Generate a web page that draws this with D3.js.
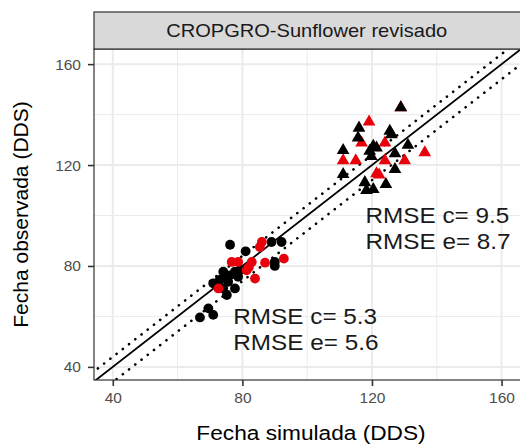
<!DOCTYPE html>
<html>
<head>
<meta charset="utf-8">
<script src="https://cdn.jsdelivr.net/npm/d3@7"></script>
<style>
  body { margin: 0; background: #fff; }
  svg { display: block; font-family: "Liberation Sans", Arial, sans-serif; }
</style>
</head>
<body>
<script>
// observed vs simulated dates (DDS)
var circleBlack = [
  [76.2, 88.4], [81.0, 85.8], [89.0, 89.5], [92.1, 89.5], [90.0, 81.6], [90.0, 80.0],
  [74.1, 77.7], [76.2, 76.3], [78.7, 75.7], [75.6, 73.7], [71.0, 73.1], [74.1, 71.1],
  [77.7, 71.1], [75.2, 68.5], [69.5, 63.2], [71.0, 60.6], [66.9, 59.6], [77.7, 77.7],
  [74.6, 75.7], [79.5, 78.5], [73.0, 74.5]
];
var circleRed = [
  [86.0, 89.5], [85.4, 87.5], [76.7, 81.6], [82.9, 81.6], [87.0, 81.3], [92.8, 82.9],
  [81.3, 78.3], [83.9, 75.0], [72.6, 71.1], [78.7, 81.6], [82.0, 79.5]
];
var triBlack = [
  [128.9, 142.8], [116.0, 134.7], [115.7, 130.8], [126.0, 132.1], [111.1, 125.8],
  [120.4, 127.5], [121.4, 126.8], [119.3, 125.5], [131.1, 127.9], [127.1, 124.5],
  [111.1, 116.3], [127.1, 118.3], [117.8, 113.1], [118.3, 110.0], [120.4, 110.4],
  [124.3, 112.4], [125.5, 133.5], [119.8, 123.5]
];
var triRed = [
  [128.9, 142.8], [119.1, 137.1], [116.8, 128.8], [124.0, 128.8], [111.1, 121.8],
  [115.0, 121.8], [124.0, 121.8], [130.1, 121.8], [136.3, 124.9], [121.4, 116.6],
  [122.2, 116.1]
];
var ticks = [40, 80, 120, 160];
var minorTicks = [60, 100, 140];
var refOffsets = [4, -6];   // dotted lines around 1:1
var labels = [
  { x: 118.0, y: 96.9, text: "RMSE c= 9.5" },
  { x: 118.0, y: 86.6, text: "RMSE e= 8.7" },
  { x: 77.2, y: 57.0, text: "RMSE c= 5.3" },
  { x: 77.2, y: 46.7, text: "RMSE e= 5.6" }
];

var W = 520, H = 447;
var pL = 94, pR = 521, pT = 49, pB = 380, stripT = 12;
var sx = 1.08; // text in the picture is a bit wider than tall

var svg = d3.select("body").append("svg").attr("width", W).attr("height", H);

var x = d3.scaleLinear().domain([34.2, 166]).range([pL, pR]);
var y = d3.scaleLinear().domain([34.8, 166]).range([pB, pT]);

svg.append("clipPath").attr("id", "clip")
  .append("rect").attr("x", pL).attr("y", pT).attr("width", pR - pL).attr("height", pB - pT);

// panel bg + grid
svg.append("rect").attr("x", pL).attr("y", pT).attr("width", pR - pL).attr("height", pB - pT).attr("fill", "#fff");
var grid = svg.append("g");
grid.selectAll(".vmin").data(minorTicks).enter().append("line")
  .attr("x1", d => x(d)).attr("x2", d => x(d)).attr("y1", pT).attr("y2", pB)
  .attr("stroke", "#ebebeb").attr("stroke-width", 1);
grid.selectAll(".hmin").data(minorTicks).enter().append("line")
  .attr("y1", d => y(d)).attr("y2", d => y(d)).attr("x1", pL).attr("x2", pR)
  .attr("stroke", "#ebebeb").attr("stroke-width", 1);
grid.selectAll(".vmaj").data(ticks).enter().append("line")
  .attr("x1", d => x(d)).attr("x2", d => x(d)).attr("y1", pT).attr("y2", pB)
  .attr("stroke", "#ebebeb").attr("stroke-width", 2);
grid.selectAll(".hmaj").data(ticks).enter().append("line")
  .attr("y1", d => y(d)).attr("y2", d => y(d)).attr("x1", pL).attr("x2", pR)
  .attr("stroke", "#ebebeb").attr("stroke-width", 2);

var plot = svg.append("g").attr("clip-path", "url(#clip)");

// reference lines
var lo = 20, hi = 180;
plot.append("line")
  .attr("x1", x(lo)).attr("y1", y(lo)).attr("x2", x(hi)).attr("y2", y(hi))
  .attr("stroke", "#000").attr("stroke-width", 1.8);
plot.selectAll(".ref").data(refOffsets).enter().append("line")
  .attr("x1", x(lo)).attr("y1", d => y(lo + d)).attr("x2", x(hi)).attr("y2", d => y(hi + d))
  .attr("stroke", "#000").attr("stroke-width", 2.6)
  .attr("stroke-linecap", "round").attr("stroke-dasharray", "0.1 7.8");

// points
function circles(data, col) {
  plot.append("g").selectAll("circle").data(data).enter().append("circle")
    .attr("cx", d => x(d[0])).attr("cy", d => y(d[1])).attr("r", 4.9).attr("fill", col);
}
var tri = d3.symbol().type(d3.symbolTriangle).size(70);
function triangles(data, col) {
  plot.append("g").selectAll("path").data(data).enter().append("path")
    .attr("d", tri)
    .attr("transform", d => "translate(" + x(d[0]) + "," + y(d[1]) + ")")
    .attr("fill", col);
}
triangles(triRed, "#e8000b");
triangles(triBlack, "#000");
circles(circleBlack, "#000");
circles(circleRed, "#e8000b");

// annotations
svg.selectAll(".lab").data(labels).enter().append("text")
  .attr("transform", d => "translate(" + x(d.x) + "," + y(d.y) + ") scale(" + sx + ",1)")
  .attr("font-size", 22.5).attr("fill", "#1a1a1a")
  .text(d => d.text);

// panel border
svg.append("rect").attr("x", pL).attr("y", pT).attr("width", pR - pL).attr("height", pB - pT)
  .attr("fill", "none").attr("stroke", "#333").attr("stroke-width", 1.2);

// strip
svg.append("rect").attr("x", pL).attr("y", stripT).attr("width", pR - pL).attr("height", pT - stripT)
  .attr("fill", "#d9d9d9").attr("stroke", "#333").attr("stroke-width", 1.2);
svg.append("text").attr("transform", "translate(306.7,37.3) scale(" + sx + ",1)")
  .attr("text-anchor", "middle").attr("font-size", 18.6).attr("fill", "#1a1a1a")
  .text("CROPGRO-Sunflower revisado");

// axes
var xAxis = svg.append("g").attr("transform", "translate(0," + pB + ")")
  .call(d3.axisBottom(x).tickValues(ticks).tickSize(6).tickPadding(6));
var yAxis = svg.append("g").attr("transform", "translate(" + pL + ",0)")
  .call(d3.axisLeft(y).tickValues(ticks).tickSize(6).tickPadding(7));
[xAxis, yAxis].forEach(function(a) {
  a.select(".domain").remove();
  a.selectAll(".tick line").attr("stroke", "#333").attr("stroke-width", 1.6);
  a.selectAll(".tick text").attr("fill", "#4d4d4d").attr("font-size", 15.5)
    .attr("font-family", "Liberation Sans, Arial, sans-serif");
});

svg.append("text").attr("transform", "translate(311,440) scale(" + sx + ",1)")
  .attr("text-anchor", "middle").attr("font-size", 21).attr("fill", "#000")
  .text("Fecha simulada (DDS)");
svg.append("text").attr("transform", "translate(28," + ((pT + pB) / 2) + ") rotate(-90)")
  .attr("text-anchor", "middle").attr("font-size", 21).attr("fill", "#000")
  .text("Fecha observada (DDS)");
</script>
</body>
</html>
